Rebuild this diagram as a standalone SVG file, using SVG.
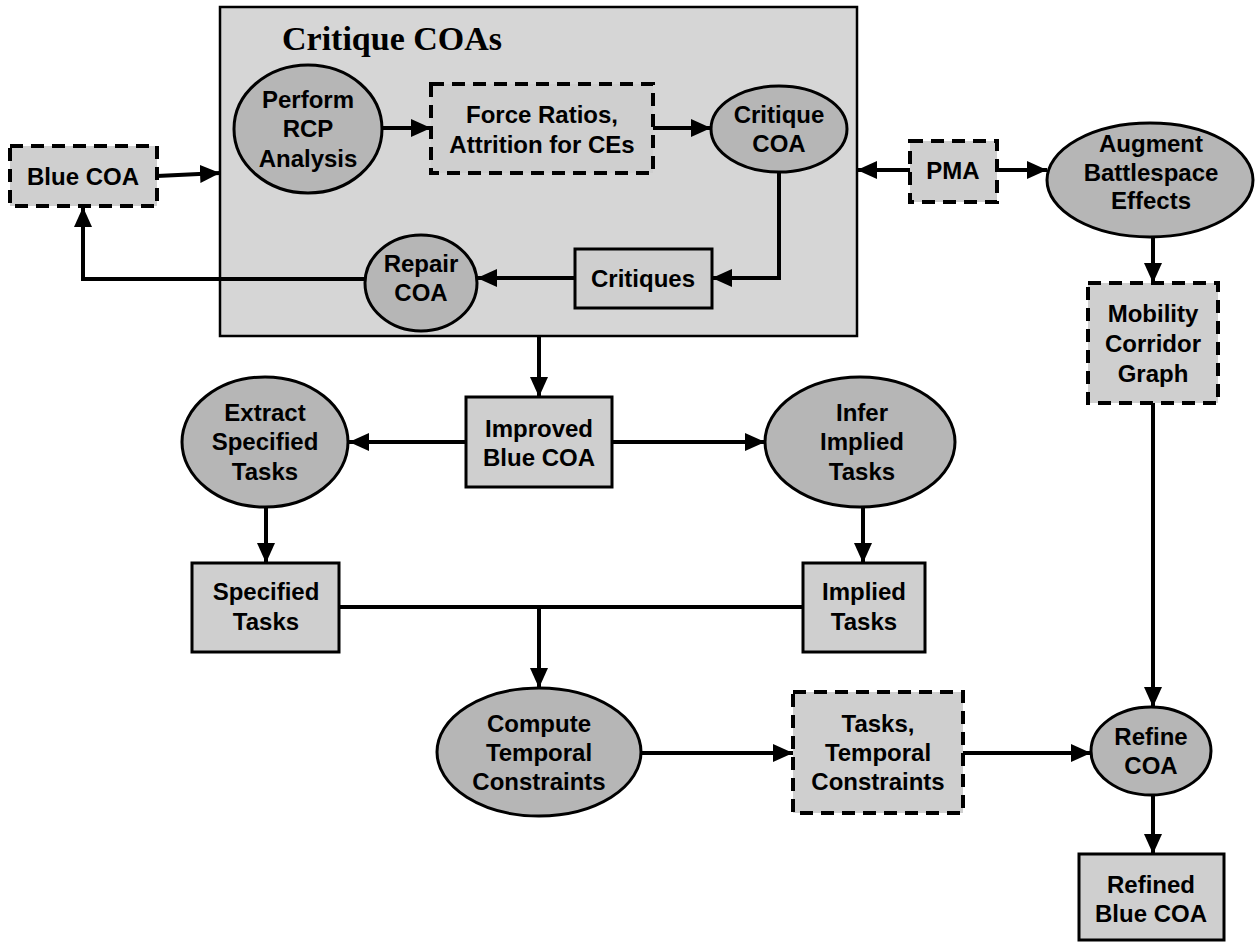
<svg xmlns="http://www.w3.org/2000/svg" width="1258" height="943" viewBox="0 0 1258 943">
<defs>
<marker id="ah" viewBox="0 0 20 18" refX="20" refY="9" markerWidth="20" markerHeight="18" markerUnits="userSpaceOnUse" orient="auto">
<path d="M0,0 L20,9 L0,18 Z" fill="#000"/>
</marker>
<style>
.t{font-family:"Liberation Sans",Arial,sans-serif;font-weight:bold;font-size:24px;fill:#000;text-anchor:middle}
.ttl{font-family:"Liberation Serif","Times New Roman",serif;font-weight:bold;font-size:34px;fill:#000}
.el{fill:#b6b6b6;stroke:#000;stroke-width:3}
.bx{fill:#cfcfcf;stroke:#000;stroke-width:3}
.dbx{fill:#cfcfcf;stroke:#000;stroke-width:4;stroke-dasharray:13 8}
.c{fill:none;stroke:#000;stroke-width:4}
</style>
</defs>
<rect width="1258" height="943" fill="#fff"/>
<g id="critique-coas">
<rect x="220" y="7" width="637" height="329" fill="#d6d6d6" stroke="#000" stroke-width="2.5"/>
<text class="ttl" x="282" y="50">Critique COAs</text>
</g>
<g id="connectors">
<path class="c" d="M157,176 L220,173" marker-end="url(#ah)"/>
<path class="c" d="M382,128 L431,128" marker-end="url(#ah)"/>
<path class="c" d="M653,128 L711,128" marker-end="url(#ah)"/>
<path class="c" d="M779,172 L779,278 L712,278" marker-end="url(#ah)"/>
<path class="c" d="M575,278 L477,278" marker-end="url(#ah)"/>
<path class="c" d="M365,279 L83,279 L83,207" marker-end="url(#ah)"/>
<path class="c" d="M910,170 L857,170" marker-end="url(#ah)"/>
<path class="c" d="M997,170 L1047,170" marker-end="url(#ah)"/>
<path class="c" d="M1153,237 L1153,283" marker-end="url(#ah)"/>
<path class="c" d="M1153,403 L1153,707" marker-end="url(#ah)"/>
<path class="c" d="M539,336 L539,397" marker-end="url(#ah)"/>
<path class="c" d="M466,442 L349,442" marker-end="url(#ah)"/>
<path class="c" d="M612,442 L765,442" marker-end="url(#ah)"/>
<path class="c" d="M266,507 L266,563" marker-end="url(#ah)"/>
<path class="c" d="M863,507 L863,563" marker-end="url(#ah)"/>
<path class="c" d="M339,607 L803,607"/>
<path class="c" d="M539,607 L539,688" marker-end="url(#ah)"/>
<path class="c" d="M641,753 L793,753" marker-end="url(#ah)"/>
<path class="c" d="M963,753 L1091,753" marker-end="url(#ah)"/>
<path class="c" d="M1153,795 L1153,854" marker-end="url(#ah)"/>
</g>
<g id="perform-rcp">
<ellipse class="el" cx="308" cy="129" rx="74" ry="64"/>
<text class="t" x="308" y="108">Perform</text>
<text class="t" x="308" y="137">RCP</text>
<text class="t" x="308" y="167">Analysis</text>
</g>
<g id="force-ratios">
<rect class="dbx" x="431" y="84" width="222" height="89"/>
<text class="t" x="542" y="123">Force Ratios,</text>
<text class="t" x="542" y="153">Attrition for CEs</text>
</g>
<g id="critique-coa">
<ellipse class="el" cx="779" cy="129" rx="68" ry="43"/>
<text class="t" x="779" y="123">Critique</text>
<text class="t" x="779" y="152">COA</text>
</g>
<g id="critiques">
<rect class="bx" x="575" y="249" width="137" height="59"/>
<text class="t" x="643" y="287">Critiques</text>
</g>
<g id="repair-coa">
<ellipse class="el" cx="421" cy="283" rx="56" ry="48"/>
<text class="t" x="421" y="272">Repair</text>
<text class="t" x="421" y="301">COA</text>
</g>
<g id="blue-coa">
<rect class="dbx" x="10" y="146" width="147" height="60"/>
<text class="t" x="83" y="185">Blue COA</text>
</g>
<g id="pma">
<rect class="dbx" x="910" y="141" width="87" height="61"/>
<text class="t" x="953" y="179">PMA</text>
</g>
<g id="augment">
<ellipse class="el" cx="1150" cy="180" rx="103" ry="57"/>
<text class="t" x="1151" y="152">Augment</text>
<text class="t" x="1151" y="181">Battlespace</text>
<text class="t" x="1151" y="209">Effects</text>
</g>
<g id="mobility">
<rect class="dbx" x="1088" y="283" width="130" height="120"/>
<text class="t" x="1153" y="322">Mobility</text>
<text class="t" x="1153" y="352">Corridor</text>
<text class="t" x="1153" y="382">Graph</text>
</g>
<g id="improved-blue-coa">
<rect class="bx" x="466" y="397" width="146" height="90"/>
<text class="t" x="539" y="437">Improved</text>
<text class="t" x="539" y="466">Blue COA</text>
</g>
<g id="extract">
<ellipse class="el" cx="265" cy="442" rx="83" ry="65"/>
<text class="t" x="265" y="421">Extract</text>
<text class="t" x="265" y="450">Specified</text>
<text class="t" x="265" y="480">Tasks</text>
</g>
<g id="infer">
<ellipse class="el" cx="860" cy="442" rx="95" ry="65"/>
<text class="t" x="862" y="421">Infer</text>
<text class="t" x="862" y="450">Implied</text>
<text class="t" x="862" y="480">Tasks</text>
</g>
<g id="specified-tasks">
<rect class="bx" x="192" y="563" width="147" height="89"/>
<text class="t" x="266" y="600">Specified</text>
<text class="t" x="266" y="630">Tasks</text>
</g>
<g id="implied-tasks">
<rect class="bx" x="803" y="563" width="122" height="89"/>
<text class="t" x="864" y="600">Implied</text>
<text class="t" x="864" y="630">Tasks</text>
</g>
<g id="compute">
<ellipse class="el" cx="539" cy="752" rx="102" ry="64"/>
<text class="t" x="539" y="732">Compute</text>
<text class="t" x="539" y="761">Temporal</text>
<text class="t" x="539" y="790">Constraints</text>
</g>
<g id="tasks-temporal">
<rect class="dbx" x="793" y="692" width="170" height="121"/>
<text class="t" x="878" y="732">Tasks,</text>
<text class="t" x="878" y="761">Temporal</text>
<text class="t" x="878" y="790">Constraints</text>
</g>
<g id="refine-coa">
<ellipse class="el" cx="1151" cy="751" rx="60" ry="44"/>
<text class="t" x="1151" y="745">Refine</text>
<text class="t" x="1151" y="774">COA</text>
</g>
<g id="refined-blue-coa">
<rect class="bx" x="1079" y="854" width="145" height="86"/>
<text class="t" x="1151" y="893">Refined</text>
<text class="t" x="1151" y="922">Blue COA</text>
</g>
</svg>
